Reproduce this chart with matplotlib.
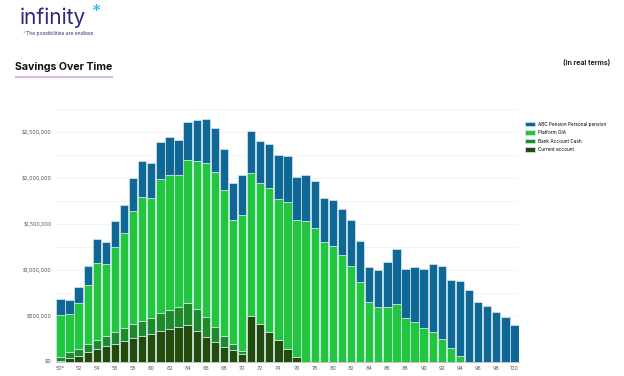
import numpy as np
import matplotlib
matplotlib.use("Agg")
from matplotlib import pyplot as plt
from matplotlib.ticker import FuncFormatter, MultipleLocator

plt.rcParams['font.family'] = ['Inter', 'DejaVu Sans']

ages = list(range(50, 101))

# values in thousands of dollars
current_account = [11, 36, 65, 102, 134, 167, 196, 225, 254, 283, 305, 331, 352, 378,
                   403, 331, 273, 218, 164, 127, 87, 501, 414, 320, 233, 138, 55] + [0] * 24
bank_cash = [44, 66, 77, 94, 106, 113, 127, 138, 157, 164, 175, 196, 211, 222,
             240, 243, 210, 164, 116, 66, 26] + [0] * 30
platform_gia = [450, 418, 498, 640, 832, 777, 923, 1036, 1228, 1348, 1304, 1454, 1468, 1424,
                1545, 1603, 1679, 1682, 1581, 1348, 1479, 1545, 1527, 1570, 1537, 1603, 1486,
                1534, 1457, 1297, 1257, 1159, 1039, 865, 647, 592, 600, 629, 476, 432, 367,
                320, 251, 149, 65, 0, 0, 0, 0, 0, 0]
pension = [175, 149, 167, 203, 265, 240, 280, 305, 360, 389, 371, 407, 411, 389,
           421, 447, 476, 480, 454, 400, 439, 465, 461, 479, 472, 494, 469,
           497, 502, 484, 505, 505, 498, 451, 385, 404, 483, 592, 527, 596, 643,
           741, 785, 741, 807, 778, 650, 603, 541, 483, 400]

series = [
    ("Current account", current_account, "#234b0b"),
    ("Bank Account Cash", bank_cash, "#1f8a2c"),
    ("Platform GIA", platform_gia, "#22c53e"),
    ("ABC Pension Personal pension", pension, "#0f6796"),
]

fig = plt.figure(figsize=(6.24, 3.76), dpi=100)
ax = fig.add_axes([0.0897, 0.038, 0.742, 0.673])

x = np.arange(len(ages))
bottom = np.zeros(len(ages))
handles = {}
for name, vals, col in series:
    v = np.array(vals) * 1000.0
    b = ax.bar(x, v, bottom=bottom, width=0.92, color=col,
               edgecolor="#d3eaf0", linewidth=0.5, label=name)
    handles[name] = b
    bottom += v

ax.set_xlim(-0.5, len(ages) - 0.5)
ax.set_ylim(0, 2750000)
ax.yaxis.set_major_locator(MultipleLocator(500000))
ax.yaxis.set_minor_locator(MultipleLocator(250000))
ax.yaxis.set_major_formatter(FuncFormatter(lambda v, p: "${:,.0f}".format(v)))
ax.grid(axis='y', which='both', color="#f2f2f2", linewidth=0.6)
ax.set_axisbelow(True)

ticks = x[::2]
labels = [str(a) for a in ages[::2]]
labels[0] = "50*"
ax.set_xticks(ticks)
ax.set_xticklabels(labels)
ax.tick_params(axis='both', labelsize=3.8, colors="#555555", length=0, pad=3)
ax.tick_params(axis='y', which='minor', length=0)
for s in ['top', 'right', 'left']:
    ax.spines[s].set_visible(False)
ax.spines['bottom'].set_color("#bbbbbb")
ax.spines['bottom'].set_linewidth(0.6)

order = ["ABC Pension Personal pension", "Platform GIA", "Bank Account Cash", "Current account"]
fig.legend([handles[n] for n in order], order, loc='upper left',
           bbox_to_anchor=(0.834, 0.688), frameon=False, fontsize=3.4,
           handlelength=2.2, handleheight=1.0, labelspacing=0.75, handletextpad=0.6)

# header
fig.text(0.032, 0.935, "infinity", fontsize=15, color="#2b2a7c", va='baseline')
fig.text(0.148, 0.955, "*", fontsize=13, color="#29b3ef", va='baseline')
fig.text(0.036, 0.908, "*", fontsize=3.5, color="#29b3ef", va='baseline')
fig.text(0.041, 0.906, "The possibilities are endless", fontsize=3.6, color="#2b2a7c", va='baseline')

fig.text(0.024, 0.815, "Savings Over Time", fontsize=7.6, fontweight='bold', color="#111111",
         va='baseline')
grad = fig.add_axes([0.024, 0.793, 0.156, 0.005])
grad.imshow(np.linspace(0, 1, 100).reshape(1, -1), aspect='auto',
            cmap=matplotlib.colors.LinearSegmentedColormap.from_list("u", ["#e6b6d8", "#c4c4ec"]))
grad.axis('off')

fig.text(0.978, 0.828, "(In real terms)", fontsize=5, fontweight='bold', color="#222222",
         ha='right', va='baseline')

fig.savefig("out.png", dpi=100)
